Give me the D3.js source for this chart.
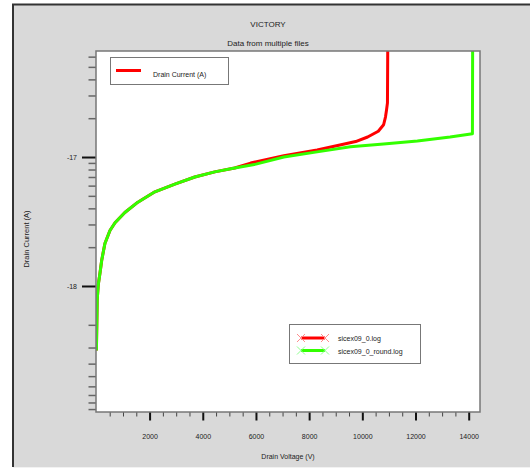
<!DOCTYPE html>
<html>
<head>
<meta charset="utf-8">
<script src="https://cdn.jsdelivr.net/npm/d3@7"></script>
<style>
  body { margin: 0; background: white; }
  text { font-family: "Liberation Sans", Arial, sans-serif; fill: #222; }
</style>
</head>
<body>
<div id="bigdiv"></div>
<script>
// drain voltage (V) and log10 of drain current (A)
var voltsRound = [0, 30, 70, 135, 200, 320, 510, 700, 1070, 1560, 2200, 2950, 3700, 4450, 5200, 6000, 7050, 8300, 9550, 10800, 12070, 13300, 14140, 14150]
var logIRound = [-18.50, -18.11, -17.99, -17.90, -17.80, -17.67, -17.57, -17.51, -17.43, -17.35, -17.27, -17.21, -17.155, -17.115, -17.085, -17.055, -17.00, -16.96, -16.92, -16.90, -16.875, -16.845, -16.82, -16.0]

var volts0 = [0, 30, 70, 135, 200, 320, 510, 700, 1070, 1560, 2200, 2950, 3700, 4450, 5200, 5800, 7050, 8300, 9200, 9750, 10200, 10600, 10800, 10870, 10910, 10945, 10960]
var logI0 = [-18.50, -18.11, -17.99, -17.90, -17.80, -17.67, -17.57, -17.51, -17.43, -17.35, -17.27, -17.21, -17.155, -17.115, -17.085, -17.047, -16.99, -16.945, -16.905, -16.88, -16.845, -16.80, -16.75, -16.69, -16.635, -16.58, -16.0]

var fileNames = ['sicex09_0.log', 'sicex09_0_round.log']
var fileColors = ['#ff0000', '#33ff00']
var markColors = ['#ff8c8c', '#8cff8c']

var xMajor = [2000, 4000, 6000, 8000, 10000, 12000, 14000]
var yMajor = [-17, -18]

var plot = { left: 96, right: 480, top: 51, bottom: 412 }

let svg = d3.select('div#bigdiv').append('svg')
    .attr('width', 530).attr('height', 468)

// grey window
svg.append('rect').attr('x', 13).attr('y', 4).attr('width', 517).attr('height', 463).attr('fill', '#d9d9d9')
svg.append('line').attr('x1', 13).attr('x2', 13).attr('y1', 4).attr('y2', 467).attr('stroke', '#333').attr('stroke-width', 2)
svg.append('line').attr('x1', 12).attr('x2', 530).attr('y1', 4.5).attr('y2', 4.5).attr('stroke', '#333').attr('stroke-width', 2)
svg.append('line').attr('x1', 13).attr('x2', 530).attr('y1', 467.5).attr('y2', 467.5).attr('stroke', '#f2f2f2').attr('stroke-width', 1)

svg.append('text').attr('x', 268).attr('y', 27).attr('text-anchor', 'middle').attr('font-size', 8).text('VICTORY')
svg.append('text').attr('x', 268).attr('y', 46).attr('text-anchor', 'middle').attr('font-size', 8).text('Data from multiple files')

let x = d3.scaleLinear().domain([-15, 14425]).range([plot.left, plot.right])
let y = d3.scaleLinear().domain([-18.977, -16.178]).range([plot.bottom, plot.top])

svg.append('rect')
    .attr('x', plot.left).attr('y', plot.top)
    .attr('width', plot.right - plot.left).attr('height', plot.bottom - plot.top)
    .attr('fill', 'white')

svg.append('clipPath').attr('id', 'plotclip').append('rect')
    .attr('x', plot.left).attr('y', plot.top)
    .attr('width', plot.right - plot.left).attr('height', plot.bottom - plot.top)

// minor ticks
let xMinor = d3.range(500, 14001, 500).filter(v => !xMajor.includes(v))
let ks = d3.range(2, 10)
let yMinor = []
ks.forEach(k => {
    yMinor.push(-17 + Math.log10(k))
    yMinor.push(-18 + Math.log10(k))
    yMinor.push(-18 - Math.log10(k))   // the tool mirrors the lowest decade
})
yMinor = yMinor.filter(v => v <= y.domain()[1] && v >= y.domain()[0])

let gxMinor = svg.append('g').attr('transform', 'translate(0,' + plot.bottom + ')')
    .call(d3.axisBottom(x).tickValues(xMinor).tickSize(4.5).tickFormat(''))
gxMinor.select('.domain').remove()
gxMinor.selectAll('line').attr('stroke', '#444')

let gx = svg.append('g').attr('transform', 'translate(0,' + plot.bottom + ')')
    .call(d3.axisBottom(x).tickValues(xMajor).tickSize(8.5).tickPadding(14).tickFormat(d => String(d)))
gx.select('.domain').remove()
gx.selectAll('line').attr('stroke', '#111').attr('stroke-width', 2)
gx.selectAll('text').attr('font-size', 7).attr('font-family', '"Liberation Sans", Arial, sans-serif').attr('fill', '#222')

let gyMinor = svg.append('g').attr('transform', 'translate(' + plot.left + ',0)')
    .call(d3.axisLeft(y).tickValues(yMinor).tickSize(7.5).tickFormat(''))
gyMinor.select('.domain').remove()
gyMinor.selectAll('line').attr('stroke', '#666').attr('stroke-width', 1.5)

let gy = svg.append('g').attr('transform', 'translate(' + plot.left + ',0)')
    .call(d3.axisLeft(y).tickValues(yMajor).tickSize(14).tickPadding(5).tickFormat(d => String(d)))
gy.select('.domain').remove()
gy.selectAll('line').attr('stroke', '#111').attr('stroke-width', 2)
gy.selectAll('text').attr('font-size', 7).attr('font-family', '"Liberation Sans", Arial, sans-serif').attr('fill', '#222')

// curves
let series = [
    { v: volts0, l: logI0 },
    { v: voltsRound, l: logIRound }
]
let line = d3.line().x(d => x(d[0])).y(d => y(d[1]))
let curveg = svg.append('g').attr('clip-path', 'url(#plotclip)')
series.forEach((s, si) => {
    curveg.append('path')
        .datum(s.v.map((v, i) => [v, s.l[i]]))
        .attr('d', line)
        .attr('fill', 'none')
        .attr('stroke', fileColors[si])
        .attr('stroke-width', 3)
        .attr('stroke-linejoin', 'round')
})

// plot frame
svg.append('rect')
    .attr('x', plot.left).attr('y', plot.top)
    .attr('width', plot.right - plot.left).attr('height', plot.bottom - plot.top)
    .attr('fill', 'none').attr('stroke', '#777').attr('stroke-width', 1.5)

// axis titles
svg.append('text').attr('x', 288).attr('y', 459).attr('text-anchor', 'middle').attr('font-size', 7).text('Drain Voltage (V)')
svg.append('text').attr('transform', 'translate(29,239) rotate(-90)').attr('text-anchor', 'middle').attr('font-size', 7.5).text('Drain Current (A)')

// quantity legend
svg.append('rect').attr('x', 110.5).attr('y', 57.5).attr('width', 118).attr('height', 27)
    .attr('fill', 'white').attr('stroke', '#777')
svg.append('line').attr('x1', 116).attr('x2', 141).attr('y1', 70.5).attr('y2', 70.5)
    .attr('stroke', fileColors[0]).attr('stroke-width', 3)
svg.append('text').attr('x', 153).attr('y', 77).attr('font-size', 7).text('Drain Current (A)')

// file legend
svg.append('rect').attr('x', 289.5).attr('y', 324.5).attr('width', 131).attr('height', 39)
    .attr('fill', 'white').attr('stroke', '#777')
fileNames.forEach((name, i) => {
    let ly = 338 + i * 12.5
    let lg = svg.append('g')
    lg.append('line').attr('x1', 301).attr('x2', 325).attr('y1', ly).attr('y2', ly)
        .attr('stroke', fileColors[i]).attr('stroke-width', 3)
    ;[301, 325].forEach(cx => {
        lg.append('path')
            .attr('d', 'M' + (cx - 4) + ',' + (ly - 4) + 'L' + (cx + 4) + ',' + (ly + 4) + 'M' + (cx - 4) + ',' + (ly + 4) + 'L' + (cx + 4) + ',' + (ly - 4))
            .attr('stroke', markColors[i]).attr('stroke-width', 1)
    })
    lg.append('text').attr('x', 338).attr('y', ly + 3).attr('font-size', 7).text(name)
})
</script>
</body>
</html>
